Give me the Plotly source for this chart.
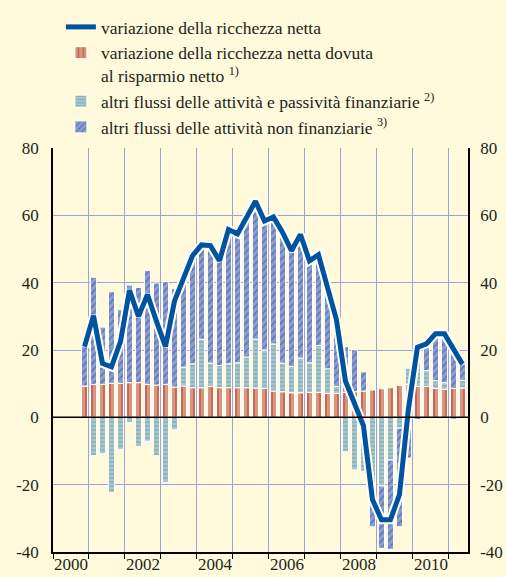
import plotly.graph_objects as go

# Quarters 2000Q4 .. 2011Q2
quarters = ["2000Q4"] + [f"{y}Q{q}" for y in range(2001, 2011) for q in range(1, 5)] + ["2011Q1", "2011Q2"]

# variazione della ricchezza netta
net_wealth = [21.0, 30.2, 16.0, 15.0, 22.5, 37.8, 30.0, 36.5, 28.5, 21.0,
              34.5, 41.0, 48.0, 51.2, 51.0, 46.5, 55.8, 54.5, 59.3, 64.2,
              58.3, 59.5, 55.0, 49.5, 54.3, 46.5, 48.3, 39.0, 29.0, 10.8,
              4.5, -2.5, -24.4, -30.4, -30.4, -23.0, 2.5, 20.8, 21.8, 24.8,
              24.8, 20.0, 15.8]
# variazione dovuta al risparmio netto
saving = [9.3, 9.8, 9.8, 10.1, 10.1, 10.3, 10.3, 9.8, 9.6, 9.8,
          9.0, 9.3, 8.8, 8.8, 9.2, 8.8, 8.8, 8.8, 8.8, 8.7,
          8.6, 7.8, 7.6, 7.3, 7.3, 7.4, 7.4, 7.1, 7.1, 7.4,
          7.6, 7.8, 8.1, 8.5, 8.8, 9.5, 9.8, 9.2, 9.2, 8.6,
          8.3, 8.6, 8.7]
# altri flussi delle attività e passività finanziarie
fin_flows = [0.0, -11.4, -10.8, -22.3, -9.5, -1.5, -8.6, -7.1, -11.4, -19.3,
             -3.7, 5.6, 7.1, 14.4, 6.9, 6.6, 7.1, 7.4, 9.1, 14.5,
             11.4, 14.0, 8.5, 7.8, 10.3, 8.8, 13.9, 7.3, 2.1, -10.2,
             -15.6, -16.0, -20.2, -20.4, -12.7, -3.2, 4.8, 12.3, 4.7, 2.3,
             2.0, -0.6, 2.3]
# altri flussi delle attività non finanziarie
nonfin_flows = [11.7, 31.8, 17.0, 27.2, 21.9, 29.0, 28.3, 33.8, 30.3, 30.5,
                29.2, 26.1, 32.1, 28.0, 34.9, 31.1, 39.9, 38.3, 41.4, 41.0,
                38.3, 37.7, 38.9, 34.4, 36.7, 30.3, 27.0, 24.6, 19.8, 13.6,
                12.5, 5.7, -12.3, -18.5, -26.5, -29.3, -12.1, -0.7, 7.9, 13.9,
                14.5, 12.0, 4.8]

year_ticks = list(range(2000, 2012))
label_years = ["2000", "2002", "2004", "2006", "2008", "2010"]
y_ticks = [-40, -20, 0, 20, 40, 60, 80]
y_labels = ["-40", "-20", "0", "20", "40", "60", "80"]

x = [int(q[:4]) + (int(q[5]) - 0.5) / 4 for q in quarters]

BG = "#FFFADB"
GRID = "#98A3D8"
FONT = "Liberation Serif, Times New Roman, serif"
TXT = "#231F20"
BW = 0.17

fig = go.Figure()
fig.add_trace(go.Bar(
    x=x, y=saving, width=BW, name="variazione della ricchezza netta dovuta<br>al risparmio netto <sup>1)</sup>",
    marker=dict(color="#D9957E", line=dict(color="white", width=1),
                pattern=dict(shape="|", fgcolor="#B0322A", bgcolor="#D9957E", size=6, solidity=0.3)),
    legendrank=2))
fig.add_trace(go.Bar(
    x=x, y=fin_flows, width=BW, name="altri flussi delle attività e passività finanziarie <sup>2)</sup>",
    marker=dict(color="#A9C6CA", line=dict(color="white", width=1),
                pattern=dict(shape="-", fgcolor="#3F8792", bgcolor="#A9C6CA", size=4, solidity=0.25)),
    legendrank=3))
fig.add_trace(go.Bar(
    x=x, y=nonfin_flows, width=BW, name="altri flussi delle attività non finanziarie <sup>3)</sup>",
    marker=dict(color="#8E9DCF", line=dict(color="white", width=1),
                pattern=dict(shape="/", fgcolor="#2F50A0", bgcolor="#8E9DCF", size=5, solidity=0.3)),
    legendrank=4))
fig.add_trace(go.Scatter(
    x=x, y=net_wealth, mode="lines", line=dict(color="white", width=9),
    showlegend=False, hoverinfo="skip"))
fig.add_trace(go.Scatter(
    x=x, y=net_wealth, mode="lines", line=dict(color="#00539F", width=5),
    name="variazione della ricchezza netta", legendrank=1))
# dummy trace so the secondary axes are drawn
fig.add_trace(go.Scatter(x=[None], y=[None], xaxis="x2", yaxis="y2",
                         showlegend=False, hoverinfo="skip"))

# solid zero line drawn over the bar outlines
fig.add_hline(y=0, line=dict(color="black", width=1.5), layer="above")

XR = [2000, 2011.53]
fig.update_layout(
    width=506, height=577,
    margin=dict(l=53, r=38, t=148, b=25, autoexpand=False),
    paper_bgcolor=BG, plot_bgcolor=BG,
    barmode="relative",
    font=dict(family=FONT, size=17, color=TXT),
    showlegend=True,
    legend=dict(x=0.019, y=1.344, xanchor="left", yanchor="top",
                font=dict(family=FONT, size=17.5, color=TXT),
                bgcolor="rgba(0,0,0,0)", valign="top", tracegroupgap=0),
    xaxis=dict(range=XR, tickmode="array", tickvals=year_ticks,
               showticklabels=False, ticks="outside", ticklen=5,
               tickcolor="black", showgrid=True, gridcolor=GRID, gridwidth=1,
               showline=True, linecolor="black", linewidth=1.5, zeroline=False,
               automargin=False),
    xaxis2=dict(range=XR, overlaying="x", anchor="y", side="bottom",
                tickmode="array", tickvals=[int(v) + 0.5 for v in label_years],
                ticktext=label_years, ticks="", showgrid=False, zeroline=False,
                showline=False, automargin=False,
                tickfont=dict(family=FONT, size=17, color=TXT)),
    yaxis=dict(range=[-40, 80], tickmode="array", tickvals=y_ticks, ticktext=y_labels,
               showgrid=True, gridcolor=GRID, gridwidth=1,
               zeroline=False,
               showline=True, linecolor="black", linewidth=1.5,
               ticks="", ticklabelstandoff=9, automargin=False),
    yaxis2=dict(range=[-40, 80], overlaying="y", side="right", anchor="x",
                tickmode="array", tickvals=y_ticks, ticktext=y_labels,
                showgrid=False, zeroline=False,
                showline=True, linecolor="black", linewidth=1.5,
                ticks="", ticklabelstandoff=7, automargin=False),
)

fig.write_html("out.html", config={"displayModeBar": False},
               post_script="document.body.style.margin='0px';document.body.style.padding='0px';"
                           "document.body.style.background='" + BG + "';")
